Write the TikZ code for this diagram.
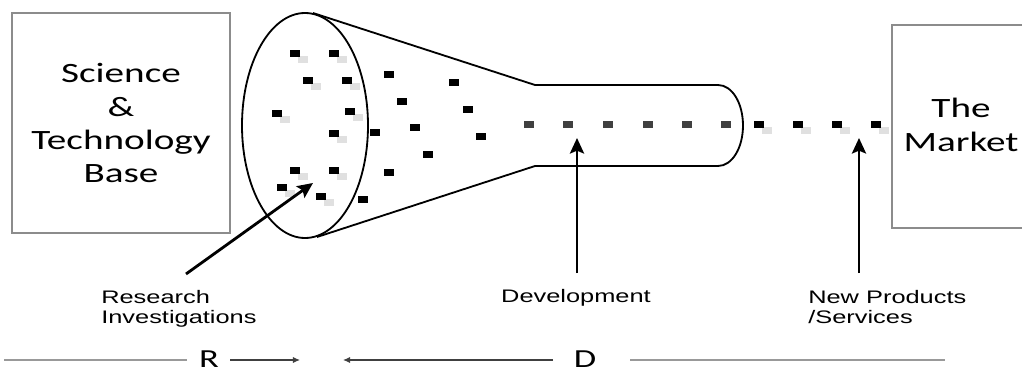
\documentclass[tikz,border=0pt]{standalone}
\usepackage{fontspec}
\newfontfamily\calibfont{Carlito}
\newfontfamily\arialfont{Liberation Sans}
\usetikzlibrary{arrows.meta}
\newcommand\widetext[1]{\scalebox{1.4}[1]{#1}}

\begin{document}
\begin{tikzpicture}[x=0.025cm,y=-0.025cm]
  \tikzstyle{boxline}=[draw=black!45,line width=1.2pt]
  \tikzstyle{outline}=[line width=1.3pt]
  \tikzstyle{pointer}=[line width=2pt,-{Stealth[length=11pt,width=10pt,inset=2pt]}]
  \tikzstyle{span}=[draw=black!40,line width=1pt]
  \tikzstyle{spanarrow}=[draw=black!75,line width=0.9pt,-{Latex[length=5pt,width=4.5pt]}]
  \tikzstyle{bigtext}=[font=\calibfont\fontsize{19.9}{23.5}\selectfont,inner sep=0pt]
  \tikzstyle{smalltext}=[font=\arialfont\fontsize{12.9}{14.9}\selectfont,inner sep=0pt]
  \useasboundingbox (0,0) rectangle (1022,374);

  % the two end boxes
  \draw[boxline] (12,13) rectangle (230,233);
  \draw[boxline] (1022,25) -| (892,228) -- (1022,228);
  \node[bigtext,anchor=base] (base) at (121,83)
    {\widetext{\begin{tabular}[t]{@{}c@{}}Science\\ \&\\ Technology\\ Base\end{tabular}}};
  \node[bigtext,anchor=base] (market) at (961,118)
    {\widetext{\begin{tabular}[t]{@{}c@{}}The\\ Market\end{tabular}}};

  % funnel
  \draw[outline] (305,125.5) ellipse [x radius=63, y radius=112.5];
  \draw[outline] (313,13) -- (535,85) -- (718,85)
    .. controls (732,85) and (743,103) .. (743,125.5)
    .. controls (743,148) and (732,166) .. (718,166) -- (535,166) -- (317,237);

  % ideas with a shadow
  \foreach \px/\py in {295/54,334/54,308/81,347/81,277/114,350/112,334/134,
                       295/171,334/171,282/188,321/197,759/125,798/125,837/125,876/125}
  {
    \fill[black!12,shift={(\px+8,\py+6)}] (-5,-3.5) rectangle (5,3.5);
    \fill[black,shift={(\px,\py)}] (-5,-3.5) rectangle (5,3.5);
  }
  \foreach \px/\py in {389/75,454/83,402/102,468/110,415/128,481/137,375/133,
                       428/155,389/173,363/200}
    \fill[black,shift={(\px,\py)}] (-5,-3.5) rectangle (5,3.5);
  \foreach \px in {529,568,608,648,687,726}
    \fill[black!75,shift={(\px,125)}] (-5,-3.5) rectangle (5,3.5);

  % labels and pointers
  \node[smalltext,anchor=base west] (research) at (101,303)
    {\widetext{\begin{tabular}[t]{@{}l@{}}Research\\Investigations\end{tabular}}};
  \node[smalltext,anchor=base] (develop) at (576,302) {\widetext{Development}};
  \node[smalltext,anchor=base west] (products) at (808,303)
    {\widetext{\begin{tabular}[t]{@{}l@{}}New Products\\/Services\end{tabular}}};
  \coordinate (researchfoot) at (186,274);
  \coordinate (researchtip) at (313,183);
  \coordinate (developfoot) at (577,273);
  \coordinate (developtip) at (577,138);
  \coordinate (productsfoot) at (859,273);
  \coordinate (productstip) at (859,138);
  \draw[pointer] (researchfoot) -- (researchtip);
  \draw[pointer] (developfoot) -- (developtip);
  \draw[pointer] (productsfoot) -- (productstip);

  % R and D scale
  \node[bigtext,font=\calibfont\fontsize{18.5}{22}\selectfont,anchor=base] (rlabel) at (209,367) {\widetext{R}};
  \node[bigtext,font=\calibfont\fontsize{18.5}{22}\selectfont,anchor=base] (dlabel) at (585,367) {\widetext{D}};
  \coordinate (rleft) at (4,360);
  \coordinate (rline) at (187,360);
  \coordinate (rtail) at (230,360);
  \coordinate (rhead) at (300,360);
  \coordinate (dtail) at (553,360);
  \coordinate (dhead) at (343,360);
  \coordinate (dline) at (630,360);
  \coordinate (dright) at (945,360);
  \draw[span] (rleft) -- (rline);
  \draw[spanarrow] (rtail) -- (rhead);
  \draw[spanarrow] (dtail) -- (dhead);
  \draw[span] (dline) -- (dright);
\end{tikzpicture}
\end{document}
